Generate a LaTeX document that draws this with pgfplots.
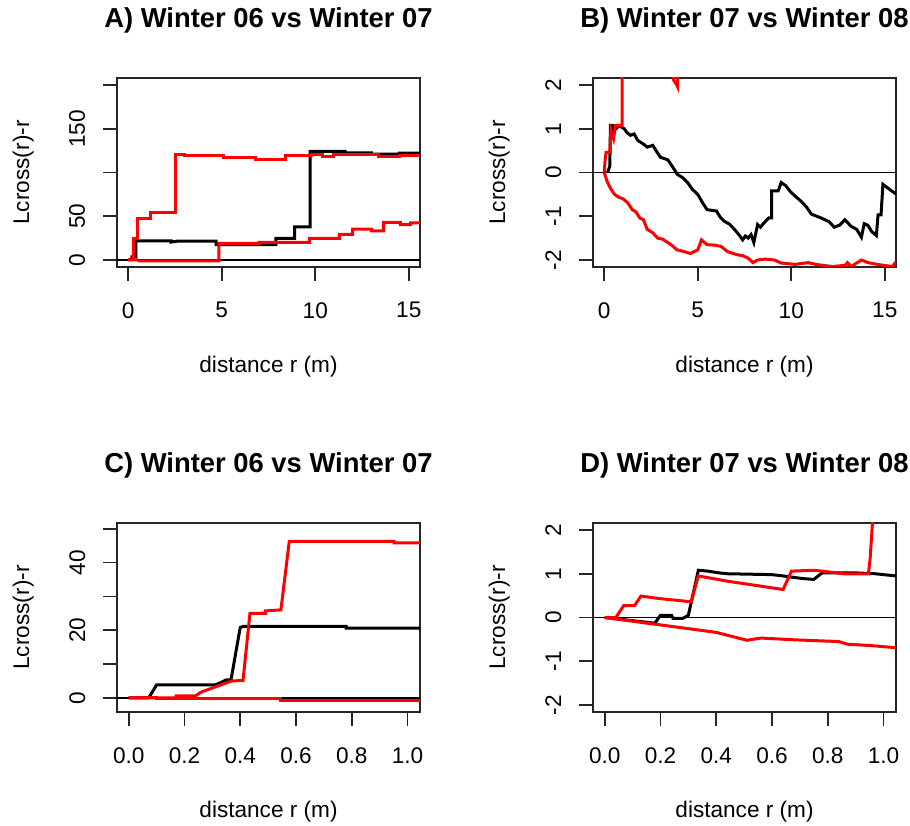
\documentclass[border=0pt]{standalone}
\usepackage{fontspec}
\setmainfont{Liberation Sans}
\usepackage{pgfplots}
\pgfplotsset{compat=1.18}

\pgfplotsset{
  rplot/.style={
    scale only axis, width=151.5pt, height=94.5pt,
    tick align=outside, tick pos=left, major tick length=7pt,
    axis line style={line width=0.8pt, black!85},
    tick style={line width=0.8pt, black!85},
    tick label style={font=\fontsize{11.3}{13}\selectfont, inner sep=0pt},
    xticklabel style={anchor=north},
    yticklabel style={rotate=90, anchor=base},
    xticklabel shift=10.5pt, yticklabel shift=9pt,
    label style={font=\fontsize{11.3}{13}\selectfont, inner sep=0pt},
    xlabel={distance r (m)}, ylabel={Lcross(r)-r},
    xlabel style={at={(axis description cs:0.5,-0.5608)}, anchor=base},
    ylabel style={at={(axis description cs:-0.2904,0.5)}, anchor=base},
    title style={at={(axis description cs:0.5,1.206)}, anchor=base, inner sep=0pt,
      font=\bfseries\fontsize{13.7}{16}\selectfont},
    obs/.style={line width=1.5pt, black},
    env/.style={line width=1.5pt, red},
    zero/.style={line width=0.7pt, black},
  }
}

\begin{document}
\begin{tikzpicture}
\useasboundingbox (0,0) rectangle (455pt,412.5pt);

% A
\begin{axis}[rplot, at={(58.5pt,279pt)}, anchor=south west,
  title={A) Winter 06 vs Winter 07},
  xmin=-0.6, xmax=15.6, ymin=-8, ymax=208,
  xtick={0,5,10,15}, xticklabels={0,5,10,15},
  ytick={0,50,100,150,200}, yticklabels={0,50,,150,}]
\addplot[zero] coordinates {(-1,0) (16,0)};
\addplot[obs] coordinates {
  (0,0) (0.2,0) (0.2,3.5) (0.41,3.5) (0.41,21.9) (2.3,21.9) (2.3,20.5) (2.6,21.5) (4.7,21.5)
  (4.7,17.6) (7.9,17.6) (7.9,24.6) (8.9,24.6) (8.9,37.9) (9.73,37.9) (9.73,124)
  (11.6,124) (11.6,122.5) (13.0,122.5) (13.0,121) (14.5,121) (14.5,122) (15.6,122)};
\addplot[env] coordinates {
  (0,0) (0.3,0) (0.3,25) (0.48,25) (0.48,47) (1.2,47) (1.2,54.7) (2.54,54.7) (2.54,120)
  (3.0,120) (3.0,119.5) (5.1,119.5) (5.1,117.6) (6.8,117.6) (6.8,115.2) (8.4,115.2)
  (8.4,119) (9.8,119) (9.8,120) (10.4,120) (10.4,118.5) (11.0,118.5) (11.0,120)
  (13.4,120) (13.4,118) (14.5,118) (14.5,119.5) (15.6,119.5)};
\addplot[env] coordinates {
  (0.3,0) (0.5,0) (0.6,-1) (4.85,-1) (4.85,19) (7.0,19) (7.0,20) (9.7,20) (9.7,24.6)
  (11.3,24.6) (11.3,29.3) (12.0,29.3) (12.0,35.2) (13.0,35.2) (13.0,33.2) (13.65,33.2)
  (13.65,43) (14.55,43) (14.55,40.5) (15.1,40.5) (15.1,42.5) (15.6,42.5)};
\end{axis}

% B
\begin{axis}[rplot, at={(296.5pt,279pt)}, anchor=south west,
  title={B) Winter 07 vs Winter 08},
  xmin=-0.6, xmax=15.6, ymin=-2.16, ymax=2.16,
  xtick={0,5,10,15}, xticklabels={0,5,10,15},
  ytick={-2,-1,0,1,2}, yticklabels={-2,-1,0,1,2}]
\addplot[zero] coordinates {(-1,0) (16,0)};
\addplot[obs] coordinates {
  (0.18,0) (0.3,0.15) (0.33,1.07) (0.5,1.07) (0.5,0.95) (0.8,1.07) (1.07,1.0) (1.2,0.92)
  (1.4,0.85) (1.6,0.88) (1.8,0.73) (2.1,0.65) (2.3,0.58) (2.6,0.62) (2.8,0.48) (3.0,0.35)
  (3.2,0.32) (3.4,0.29) (3.7,0.1) (3.9,-0.04) (4.2,-0.12) (4.46,-0.23) (4.7,-0.38)
  (5.0,-0.5) (5.3,-0.72) (5.5,-0.85) (6.0,-0.88) (6.2,-1.02) (6.4,-1.11) (6.7,-1.18)
  (6.96,-1.3) (7.2,-1.42) (7.4,-1.54) (7.55,-1.45) (7.7,-1.5) (7.85,-1.42) (8.0,-1.6)
  (8.2,-1.19) (8.35,-1.25) (8.57,-1.14) (8.8,-1.04) (8.95,-1.04) (8.95,-0.42)
  (9.3,-0.42) (9.46,-0.23) (9.7,-0.3) (10.0,-0.46) (10.5,-0.65) (10.8,-0.78)
  (11.07,-0.95) (11.6,-1.04) (12.0,-1.12) (12.3,-1.25) (12.6,-1.2) (12.86,-1.08)
  (13.2,-1.23) (13.5,-1.3) (13.75,-1.48) (13.9,-1.17) (14.1,-1.21) (14.3,-1.35)
  (14.55,-1.44) (14.64,-0.97) (14.8,-0.97) (14.9,-0.27) (15.3,-0.4) (15.6,-0.49)};
\addplot[env] coordinates {
  (0,0) (0.05,0.3) (0.1,0.46) (0.3,0.46) (0.36,0.96) (0.5,0.77) (0.6,1.07) (0.95,1.07)
  (0.97,3) (3.7,3) (3.7,2.12) (3.85,2.02) (3.92,1.96) (3.95,3)};
\addplot[env] coordinates {
  (0,0) (0.18,-0.23) (0.36,-0.38) (0.55,-0.5) (0.8,-0.57) (1.0,-0.6) (1.25,-0.69)
  (1.5,-0.85) (1.7,-0.9) (1.9,-1.04) (2.1,-1.08) (2.3,-1.3) (2.6,-1.38) (2.86,-1.5)
  (3.1,-1.52) (3.4,-1.6) (3.6,-1.66) (3.9,-1.77) (4.2,-1.8) (4.6,-1.85) (5.0,-1.77)
  (5.2,-1.54) (5.5,-1.65) (5.9,-1.66) (6.25,-1.69) (6.6,-1.81) (7.1,-1.88) (7.4,-1.9)
  (7.7,-1.96) (7.95,-2.06) (8.2,-2.0) (8.6,-1.98) (9.1,-2.0) (9.46,-2.07) (10.2,-2.1)
  (10.9,-2.06) (11.3,-2.1) (12.2,-2.15) (12.9,-2.12) (13.0,-2.06) (13.2,-2.15)
  (13.75,-2.0) (14.1,-2.06) (14.6,-2.1) (15.4,-2.15) (15.6,-2.04)};
\end{axis}

% C
\begin{axis}[rplot, at={(58.5pt,56.5pt)}, anchor=south west,
  title={C) Winter 06 vs Winter 07},
  xmin=-0.042, xmax=1.045, ymin=-4.2, ymax=51.7,
  xtick={0,0.2,0.4,0.6,0.8,1}, xticklabels={0.0,0.2,0.4,0.6,0.8,1.0},
  ytick={0,10,20,30,40,50}, yticklabels={0,,20,,40,}]
\addplot[zero] coordinates {(-1,0) (2,0)};
\addplot[obs] coordinates {
  (0,0) (0.072,0) (0.10,3.8) (0.31,3.8) (0.33,4.5) (0.35,5.3) (0.367,5.3) (0.40,20.8)
  (0.41,21.1) (0.78,21.1) (0.78,20.6) (1.045,20.6)};
\addplot[env] coordinates {
  (0,0) (0.17,0) (0.17,0.6) (0.24,0.6) (0.26,1.7) (0.32,3.5) (0.37,5) (0.41,5.1)
  (0.435,25) (0.49,25) (0.49,25.7) (0.546,26) (0.576,46.3) (0.952,46.3) (0.952,45.8)
  (1.045,45.8)};
\addplot[env] coordinates {
  (0,0) (0.1,0) (0.1,-0.3) (0.546,-0.3) (0.546,-0.75) (1.045,-0.75)};
\end{axis}

% D
\begin{axis}[rplot, at={(296.5pt,56.5pt)}, anchor=south west,
  title={D) Winter 07 vs Winter 08},
  xmin=-0.042, xmax=1.045, ymin=-2.16, ymax=2.16,
  xtick={0,0.2,0.4,0.6,0.8,1}, xticklabels={0.0,0.2,0.4,0.6,0.8,1.0},
  ytick={-2,-1,0,1,2}, yticklabels={-2,-1,0,1,2}]
\addplot[zero] coordinates {(-1,0) (2,0)};
\addplot[obs] coordinates {
  (0,0) (0.18,-0.13) (0.2,0.05) (0.24,0.05) (0.245,-0.02) (0.28,-0.02) (0.30,0.05)
  (0.336,1.08) (0.37,1.06) (0.41,1.02) (0.44,1.0) (0.6,0.98) (0.64,0.95) (0.71,0.89)
  (0.75,0.87) (0.78,1.02) (0.9,1.02) (0.97,1.0) (1.045,0.95)};
\addplot[env] coordinates {
  (0,0) (0.04,0) (0.068,0.27) (0.107,0.27) (0.13,0.49) (0.2,0.43) (0.31,0.36)
  (0.336,0.95) (0.44,0.83) (0.64,0.64) (0.67,1.06) (0.75,1.08) (0.78,1.06) (0.857,1.0)
  (0.946,1.0) (0.952,1.33) (0.964,2.5)};
\addplot[env] coordinates {
  (0,0) (0.2,-0.17) (0.4,-0.34) (0.51,-0.52) (0.56,-0.47) (0.68,-0.51) (0.84,-0.55)
  (0.87,-0.61) (0.95,-0.64) (1.045,-0.69)};
\end{axis}
\end{tikzpicture}
\end{document}
